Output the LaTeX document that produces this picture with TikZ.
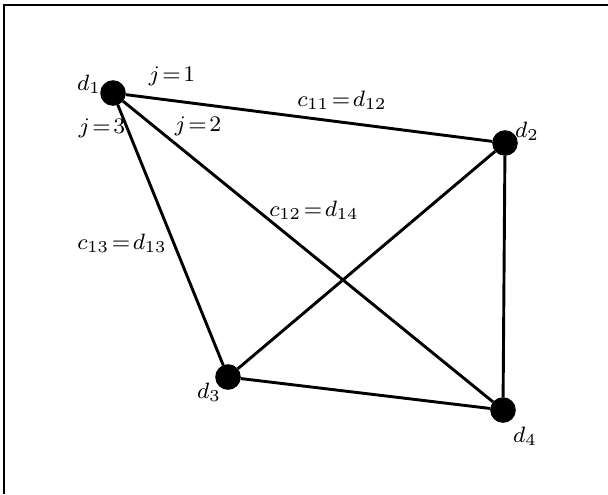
\documentclass[tikz,border=0pt]{standalone}
\usepackage{amsmath}
\usepackage{tikz}
\usetikzlibrary{positioning}
\tikzset{
  vertexdot/.style={circle, fill=black, draw=black, inner sep=0pt, minimum size=8.8pt},
  edgeline/.style={draw=black, line width=1.05pt},
  framelineA/.style={draw=black, line width=0.7pt},
  lbl/.style={inner sep=1pt, font=\footnotesize}
}

\begin{document}
\begin{tikzpicture}[x=0.36pt, y=-0.36pt]

  \useasboundingbox (0,0) rectangle (608,494);

  % frame (cropped)
  \coordinate (fbl) at (4,494);
  \coordinate (ftl) at (4,5);
  \coordinate (ftr) at (608,5);
  \draw[framelineA] (fbl) -- (ftl) -- (ftr);

  % vertices
  \node[vertexdot] (d1) at (113,93) {};
  \node[vertexdot] (d2) at (505,143) {};
  \node[vertexdot] (d3) at (228,377) {};
  \node[vertexdot] (d4) at (503,410) {};

  % edges
  \draw[edgeline] (d1) -- (d2);
  \draw[edgeline] (d1) -- (d3);
  \draw[edgeline] (d1) -- (d4);
  \draw[edgeline] (d2) -- (d3);
  \draw[edgeline] (d2) -- (d4);
  \draw[edgeline] (d3) -- (d4);

  % vertex labels
  \node[lbl] (l1) at (89,84) {$d_1$};
  \node[lbl] (l2) at (527,131) {$d_2$};
  \node[lbl] (l3) at (209,392) {$d_3$};
  \node[lbl] (l4) at (525,436) {$d_4$};

  % edge labels
  \node[lbl] (j1) at (172,76) {$j\!=\!1$};
  \node[lbl] (j2) at (198,126) {$j\!=\!2$};
  \node[lbl] (j3) at (102,128) {$j\!=\!3$};
  \node[lbl] (c11) at (342,100) {$c_{11}\!=\!d_{12}$};
  \node[lbl] (c12) at (314,210) {$c_{12}\!=\!d_{14}$};
  \node[lbl] (c13) at (122,243) {$c_{13}\!=\!d_{13}$};

\end{tikzpicture}
\end{document}
